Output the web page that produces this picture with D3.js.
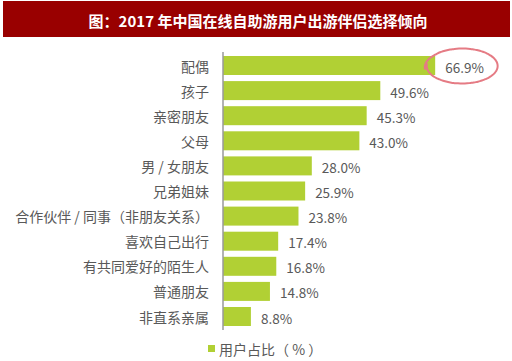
<!DOCTYPE html>
<html>
<head>
<meta charset="utf-8">
<script src="https://cdn.jsdelivr.net/npm/d3@7"></script>
<style>
  html, body { margin: 0; padding: 0; background: #fff; }
  svg { display: block; }
</style>
</head>
<body>
<svg id="chart" width="512" height="361"></svg>
<script>
const titleText = "图：2017 年中国在线自助游用户出游伴侣选择倾向";
const categories = ["配偶", "孩子", "亲密朋友", "父母", "男 / 女朋友", "兄弟姐妹", "合作伙伴 / 同事（非朋友关系）", "喜欢自己出行", "有共同爱好的陌生人", "普通朋友", "非直系亲属"];
const values = [66.9, 49.6, 45.3, 43.0, 28.0, 25.9, 23.8, 17.4, 16.8, 14.8, 8.8];
const seriesName = "用户占比（ % ）";

const svg = d3.select("#chart");
const barColor = "#b1d034";
const textColor = "#595959";
const font = "'Noto Sans CJK SC', 'Noto Sans', sans-serif";

// Title banner
svg.append("rect").attr("x", 3).attr("y", 1).attr("width", 507).attr("height", 36).attr("fill", "#990000");
svg.append("text").attr("x", 258).attr("y", 20)
  .attr("text-anchor", "middle").attr("dominant-baseline", "central")
  .attr("fill", "#fff").attr("font-family", font).attr("font-weight", "bold").attr("font-size", 15)
  .text(titleText);

const x0 = 223;
const x = d3.scaleLinear().domain([0, 70]).range([x0, x0 + 222]);
const y = d3.scaleBand().domain(categories).range([52.95, 329.05]).paddingInner(0.243).paddingOuter(0.1215);

// bars
svg.append("g").selectAll("rect").data(values).join("rect")
  .attr("x", x(0)).attr("y", (d, i) => y(categories[i]))
  .attr("width", d => x(d) - x(0)).attr("height", y.bandwidth())
  .attr("fill", barColor);

// axis line
svg.append("line").attr("x1", x0).attr("x2", x0).attr("y1", 52).attr("y2", 330)
  .attr("stroke", "#9a9a9a").attr("stroke-width", 1.5);

// category labels
svg.append("g").selectAll("text").data(categories).join("text")
  .attr("x", 209).attr("y", d => y(d) + y.bandwidth() / 2)
  .attr("text-anchor", "end").attr("dominant-baseline", "central")
  .attr("fill", textColor).attr("font-family", font).attr("font-size", 14)
  .text(d => d);

// value labels
svg.append("g").selectAll("text").data(values).join("text")
  .attr("x", d => x(d) + 10).attr("y", (d, i) => y(categories[i]) + y.bandwidth() / 2 + 1)
  .attr("dominant-baseline", "central")
  .attr("fill", textColor).attr("font-family", font).attr("font-size", 13.5)
  .text(d => d.toFixed(1) + "%");

// highlight ellipse around the top value
const cx = x(values[0]) + 27, cy = y(categories[0]) + y.bandwidth() / 2 + 0.5;
const rx = 35.5, ry = 17.5;
const pts = d3.range(0, 1.04, 0.01).map(t => {
  const a = Math.PI * 0.95 + t * Math.PI * 2.05;
  const r = 1 + (t > 0.9 ? (t - 0.9) * 0.5 : 0);
  return [cx + rx * r * Math.cos(a), cy - ry * r * Math.sin(a)];
});
svg.append("path").attr("d", d3.line().curve(d3.curveBasis)(pts))
  .attr("fill", "none").attr("stroke", "#e57b84").attr("stroke-width", 2);

// legend
svg.append("rect").attr("x", 208).attr("y", 345).attr("width", 7).attr("height", 7).attr("fill", barColor);
svg.append("text").attr("x", 219).attr("y", 349)
  .attr("dominant-baseline", "central")
  .attr("fill", textColor).attr("font-family", font).attr("font-size", 14)
  .text(seriesName);
</script>
</body>
</html>
